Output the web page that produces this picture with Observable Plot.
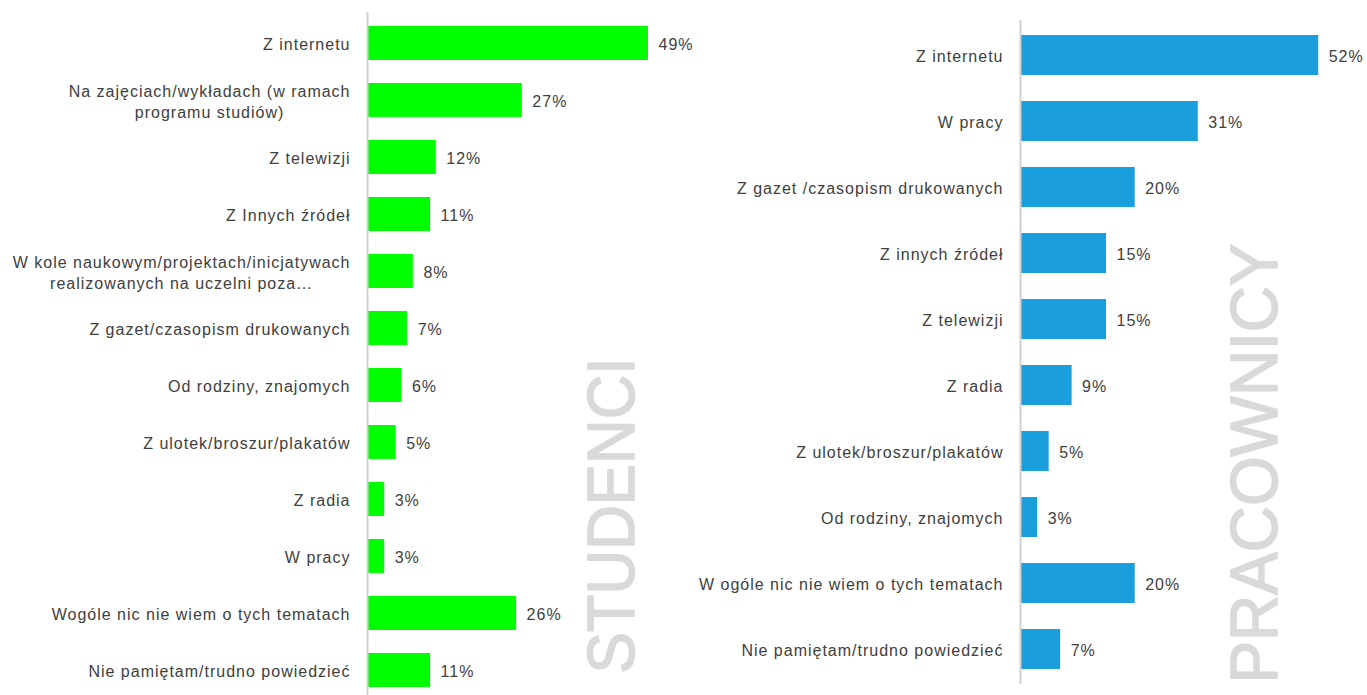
<!DOCTYPE html>
<html>
<head>
<meta charset="utf-8">
<script src="https://cdn.jsdelivr.net/npm/d3@7"></script>
<script src="https://cdn.jsdelivr.net/npm/@observablehq/plot@0.6"></script>
<style>
  html, body { margin: 0; padding: 0; background: #ffffff; }
  #wrap { position: relative; width: 1367px; height: 695px; overflow: hidden; background: #ffffff; }
  #left { position: absolute; left: 0; top: 0; }
  #right { position: absolute; left: 700px; top: 0; }
  svg { overflow: visible; }
</style>
</head>
<body>
<div id="wrap"><div id="left"></div><div id="right"></div></div>
<script>
const studentCategories = [
  "Z internetu",
  "Na zajęciach/wykładach (w ramach\nprogramu studiów)",
  "Z telewizji",
  "Z Innych źródeł",
  "W kole naukowym/projektach/inicjatywach\nrealizowanych na uczelni poza…",
  "Z gazet/czasopism drukowanych",
  "Od rodziny, znajomych",
  "Z ulotek/broszur/plakatów",
  "Z radia",
  "W pracy",
  "Wogóle nic nie wiem o tych tematach",
  "Nie pamiętam/trudno powiedzieć"
];
const studentValues = [49, 27, 12, 11, 8, 7, 6, 5, 3, 3, 26, 11];

const workerCategories = [
  "Z internetu",
  "W pracy",
  "Z gazet /czasopism drukowanych",
  "Z innych źródeł",
  "Z telewizji",
  "Z radia",
  "Z ulotek/broszur/plakatów",
  "Od rodziny, znajomych",
  "W ogóle nic nie wiem o tych tematach",
  "Nie pamiętam/trudno powiedzieć"
];
const workerValues = [52, 31, 20, 15, 15, 9, 5, 3, 20, 7];

const studentTitle = "STUDENCI";
const workerTitle = "PRACOWNICY";

const studentColor = "#00ff00";
const workerColor = "#1a9edc";
const textColor = "#404040";
const titleColor = "#d9d9d9";
const axisColor = "#d0d0d0";

function panel({categories, values, color, title, width, height, marginLeft, marginTop, pxPerPct, titleDx, titleDy}) {
  const data = categories.map((c, i) => ({category: c, value: values[i]}));
  return Plot.plot({
    width, height,
    marginLeft, marginTop, marginRight: 0, marginBottom: 0,
    style: {fontFamily: "'Liberation Sans', Arial, Helvetica, sans-serif", fontSize: "16px", letterSpacing: "1px", background: "transparent", maxWidth: "none", overflow: "visible"},
    x: {domain: [0, 60], range: [marginLeft, marginLeft + pxPerPct * 60], axis: null},
    y: {domain: categories, paddingInner: 0.4, paddingOuter: 0.2, axis: null},
    marks: [
      Plot.barX(data, {x: "value", y: "category", fill: color}),
      Plot.ruleX([0], {stroke: axisColor, strokeWidth: 2}),
      Plot.text(data, {x: 0, y: "category", text: "category", textAnchor: "end", dx: -17, fill: textColor, fontSize: 16, lineHeight: 1.35, className: "cat-label"}),
      Plot.text(data, {x: "value", y: "category", text: d => d.value + "%", textAnchor: "start", dx: 10, dy: 1, fill: textColor, fontSize: 16}),
      Plot.text([title], {frameAnchor: "bottom-right", rotate: -90, textAnchor: "start", lineAnchor: "middle", dx: titleDx, dy: titleDy, fill: titleColor, stroke: titleColor, strokeWidth: 1.6, fontSize: 66, className: "big-title"})
    ]
  });
}

function finish(plot, titleLength) {
  // center the lines of multi-line category labels within their right-aligned block
  plot.querySelectorAll(".cat-label text").forEach(t => {
    const spans = t.querySelectorAll("tspan");
    if (spans.length > 1) {
      let w = 0;
      spans.forEach(s => { w = Math.max(w, s.getComputedTextLength()); });
      t.setAttribute("text-anchor", "middle");
      spans.forEach(s => s.setAttribute("x", -w / 2));
    }
  });
  plot.querySelectorAll(".big-title text").forEach(t => {
    t.style.letterSpacing = "0px";
    t.setAttribute("textLength", titleLength);
    t.setAttribute("lengthAdjust", "spacingAndGlyphs");
  });
}

const L = panel({categories: studentCategories, values: studentValues, color: studentColor, title: studentTitle,
  width: 700, height: 702, marginLeft: 367, marginTop: 12, pxPerPct: 5.735, titleDx: -88, titleDy: -29});
document.getElementById("left").appendChild(L);
finish(L, 316);

const R = panel({categories: workerCategories, values: workerValues, color: workerColor, title: workerTitle,
  width: 667, height: 684, marginLeft: 320, marginTop: 20, pxPerPct: 5.735, titleDx: -112, titleDy: -1});
document.getElementById("right").appendChild(R);
finish(R, 440);
</script>
</body>
</html>
